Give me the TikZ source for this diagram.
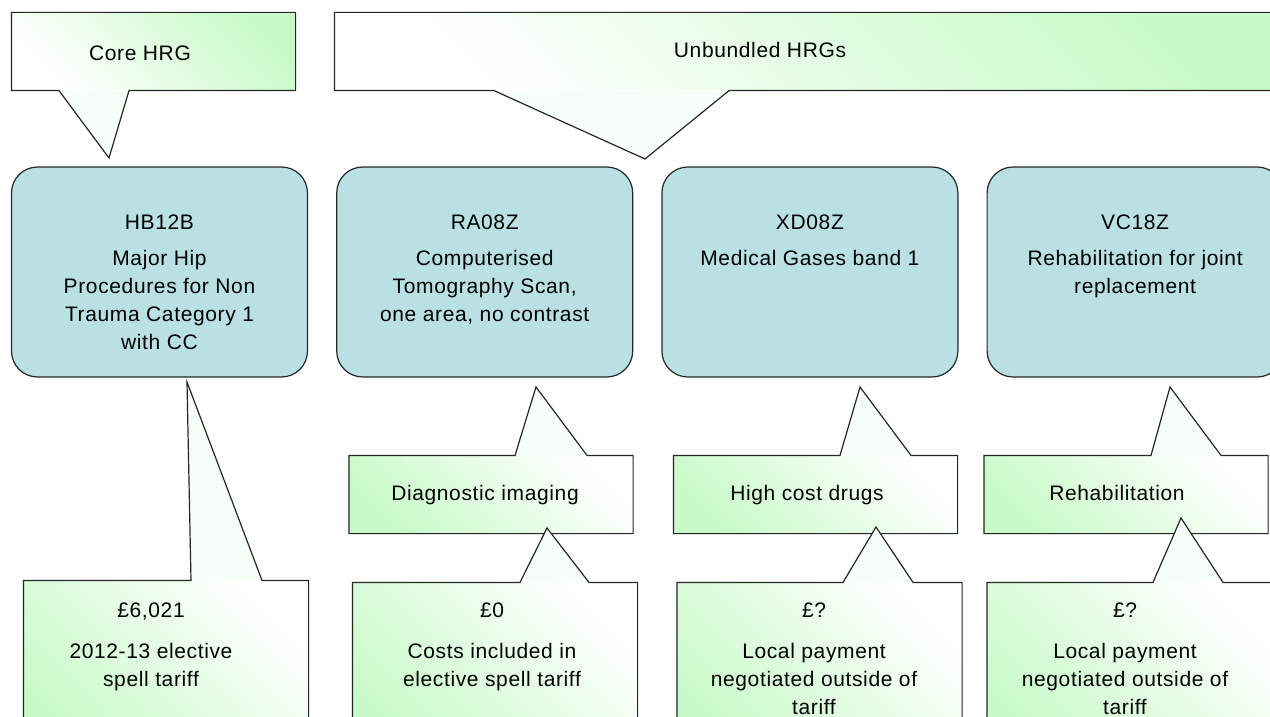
\documentclass[tikz,border=0pt]{standalone}
\usepackage{fontspec}
\setmainfont{Liberation Sans}[LetterSpace=3]
\usetikzlibrary{positioning}
\definecolor{hrgblue}{RGB}{185,224,227}
\definecolor{notegreen}{RGB}{200,250,200}

\begin{document}
\begin{tikzpicture}[x=1pt, y=-1pt, line width=1.2pt,
    hrg/.style={draw=black!85, fill=hrgblue, rounded corners=26pt, minimum width=296pt, minimum height=210pt, inner sep=0pt},
    notedown/.style={top color=notegreen, bottom color=white, shading angle=-45, inner sep=0pt},
    noteup/.style={top color=white, bottom color=notegreen, shading angle=-45, inner sep=0pt},
    tipfill/.style={fill=notegreen!15!white},
    noteline/.style={draw=black!85},
    txt/.style={align=center, anchor=base, inner sep=0pt, font=\fontsize{21}{28}\selectfont},
    lines/.style={txt, anchor=north}]
    \useasboundingbox (0,0) rectangle (1270,717);
    \clip (0,0) rectangle (1270,717);
    % HRG boxes
    \node[hrg] (hb) at (159.5,272) {};
    \node[hrg, right=28pt of hb] (ra) {};
    \node[hrg, right=28pt of ra] (xd) {};
    \node[hrg, right=28pt of xd] (vc) {};
    \node[lines] (hbtxt) at ([yshift=-48pt]hb.north) {HB12B\\[8pt]Major Hip\\Procedures for Non\\Trauma Category 1\\with CC};
    \node[lines] (ratxt) at ([yshift=-48pt]ra.north) {RA08Z\\[8pt]Computerised\\Tomography Scan,\\one area, no contrast};
    \node[lines] (xdtxt) at ([yshift=-48pt]xd.north) {XD08Z\\[8pt]Medical Gases band 1};
    \node[lines] (vctxt) at ([yshift=-48pt]vc.north) {VC18Z\\[8pt]Rehabilitation for joint\\replacement};
    % top callouts
    \node[notedown, minimum width=283pt, minimum height=77pt] (core) at (153.5,51.5) {};
    \node[notedown, minimum width=955pt, minimum height=77pt] (unb) at (812.5,51.5) {};
    \foreach \n/\a/\tx/\ty/\b in {core/59/109/158/129, unb/494/645/159/729} {
        \fill[tipfill] (\a,0 |- \n.south) -- (\tx,\ty) -- (\b,0 |- \n.south) -- cycle;
        \draw[noteline] (\n.north west) -- (\n.north east) -- (\n.south east) -- (\b,0 |- \n.south)
            -- (\tx,\ty) -- (\a,0 |- \n.south) -- (\n.south west) -- cycle;
    }
    % middle callouts
    \node[noteup, minimum width=283pt, minimum height=77pt] (dimg) at (491,494.5) {};
    \node[noteup, minimum width=283pt, minimum height=77pt] (hcd) at (815.5,494.5) {};
    \node[noteup, minimum width=283pt, minimum height=77pt] (rehab) at (1126,494.5) {};
    % bottom callouts
    \node[noteup, minimum width=284pt, minimum height=170pt] (tar) at (166,666) {};
    \node[noteup, minimum width=284pt, minimum height=170pt] (zero) at (495,668) {};
    \node[noteup, minimum width=284pt, minimum height=170pt] (loca) at (819.5,668) {};
    \node[noteup, minimum width=284pt, minimum height=170pt] (locb) at (1129.5,668) {};
    \foreach \n/\a/\tx/\ty/\b in {dimg/515/536/387/587, hcd/840/860/387/911, rehab/1151/1170/387/1221,
        tar/191/187/382/262, zero/520/547/528/589, loca/843/876/527/913, locb/1153/1181/518/1223} {
        \fill[tipfill] (\a,0 |- \n.north) -- (\tx,\ty) -- (\b,0 |- \n.north) -- cycle;
        \draw[noteline] (\n.south west) -- (\n.north west) -- (\a,0 |- \n.north) -- (\tx,\ty)
            -- (\b,0 |- \n.north) -- (\n.north east) -- (\n.south east) -- cycle;
    }
    % callout texts
    \node[txt] (coretxt) at (140,60.5) {Core HRG};
    \node[txt] (unbtxt) at (760,57.5) {Unbundled HRGs};
    \node[txt] (dimgtxt) at (485,500.5) {Diagnostic imaging};
    \node[txt] (hcdtxt) at (807,500.5) {High cost drugs};
    \node[txt] (rehabtxt) at (1117,500.5) {Rehabilitation};
    \node[lines] (tartxt) at (151,602) {£6,021\\[13pt]2012-13 elective\\spell tariff};
    \node[lines] (zerotxt) at (492,602) {£0\\[13pt]Costs included in\\elective spell tariff};
    \node[lines] (locatxt) at (814,602) {£?\\[13pt]Local payment\\negotiated outside of\\tariff};
    \node[lines] (locbtxt) at (1125,602) {£?\\[13pt]Local payment\\negotiated outside of\\tariff};
\end{tikzpicture}
\end{document}
